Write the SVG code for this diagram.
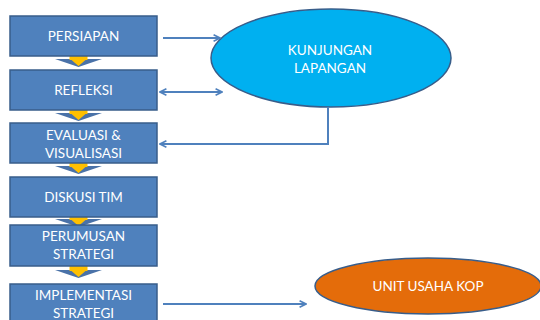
<svg xmlns="http://www.w3.org/2000/svg" width="540" height="320" viewBox="0 0 540 320">
<defs>
<style>
.box{fill:#4F81BD;stroke:#385D8A;stroke-width:1.5}
.t{font-family:Lato,"Liberation Sans",sans-serif;font-size:13.5px;fill:#fff;text-anchor:middle}
.c{fill:none;stroke:#4F81BD;stroke-width:2}
.dh{fill:#4A72A8}
.dy{fill:#FFC000}
</style>
<marker id="ah" viewBox="0 0 10 10" refX="9" refY="5" markerWidth="8" markerHeight="8" markerUnits="userSpaceOnUse" orient="auto-start-reverse">
<path d="M1,1 L9,5 L1,9" fill="none" stroke="#4F81BD" stroke-width="2"/>
</marker>
<g id="downArrow">
<polygon class="dh" points="-23.5,0 23.5,0 0,8"/>
<polygon class="dy" points="-9,-6 9,-6 9,1 7,1 0,7 -7,1 -9,1"/>
</g>
</defs>
<rect width="540" height="320" fill="#fff"/>
<g id="flowArrows">
<use href="#downArrow" x="78.5" y="59"/>
<use href="#downArrow" x="78.5" y="113"/>
<use href="#downArrow" x="78.5" y="166"/>
<use href="#downArrow" x="78.5" y="219"/>
<use href="#downArrow" x="78.5" y="270"/>
</g>
<g id="persiapan"><rect class="box" x="10" y="16" width="147" height="40"/><text class="t" x="83.5" y="41">PERSIAPAN</text></g>
<g id="refleksi"><rect class="box" x="10" y="70" width="147" height="40"/><text class="t" x="83.5" y="95">REFLEKSI</text></g>
<g id="evaluasi"><rect class="box" x="10" y="123" width="147" height="40"/><text class="t" x="83.5" y="140">EVALUASI &amp;</text><text class="t" x="83.5" y="158">VISUALISASI</text></g>
<g id="diskusi"><rect class="box" x="10" y="177" width="147" height="40"/><text class="t" x="83.5" y="202">DISKUSI TIM</text></g>
<g id="perumusan"><rect class="box" x="10" y="225" width="147" height="41"/><text class="t" x="83.5" y="241">PERUMUSAN</text><text class="t" x="83.5" y="259">STRATEGI</text></g>
<g id="implementasi"><rect class="box" x="10" y="284" width="147" height="42"/><text class="t" x="83.5" y="300">IMPLEMENTASI</text><text class="t" x="83.5" y="318">STRATEGI</text></g>
<g id="kunjungan"><ellipse cx="331" cy="58" rx="120" ry="49" fill="#00B0F0" stroke="#385D8A" stroke-width="1.5"/><text class="t" x="330" y="55">KUNJUNGAN</text><text class="t" x="330" y="73">LAPANGAN</text></g>
<g id="unitUsaha"><ellipse cx="428" cy="286" rx="113" ry="28" fill="#E46C0A" stroke="#385D8A" stroke-width="1.5"/><text class="t" x="428" y="291">UNIT USAHA KOP</text></g>
<g id="connectors">
<line class="c" x1="163" y1="38" x2="220" y2="38" marker-end="url(#ah)"/>
<line class="c" x1="160" y1="92" x2="222" y2="92" marker-start="url(#ah)" marker-end="url(#ah)"/>
<polyline class="c" points="328,107 328,144 160,144" marker-end="url(#ah)"/>
<line class="c" x1="163" y1="304" x2="306" y2="304" marker-end="url(#ah)"/>
</g>
</svg>
